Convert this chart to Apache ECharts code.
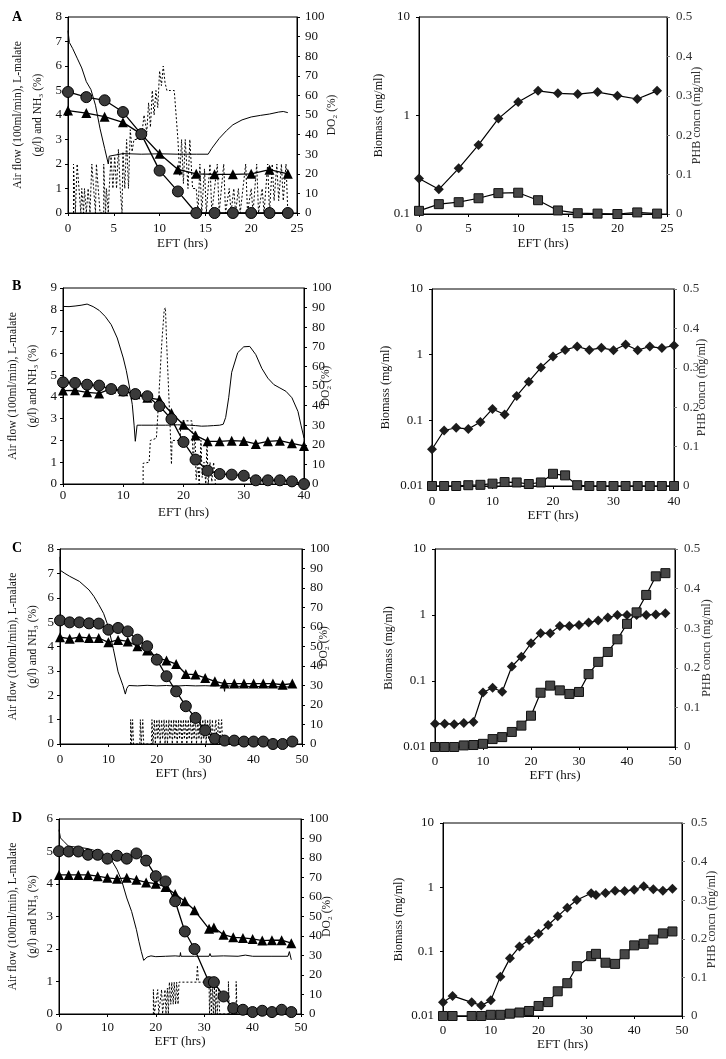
<!DOCTYPE html>
<html><head><meta charset="utf-8">
<script src="https://cdn.jsdelivr.net/npm/echarts/dist/echarts.min.js"></script>
<style>html,body{margin:0;padding:0;background:#fff;}#c{width:726px;height:1059px;}</style>
</head><body><div id="c"></div>
<script>
// ---------------- DATA ----------------
// Panel A (left)
const A_time = [0,2,4,6,8,10,12,14,16,18,20,22,24];
const A_malate = [4.94,4.73,4.6,4.12,3.22,1.73,0.88,0,0,0,0,0,0];
const A_nh3 = [4.18,4.08,3.93,3.7,3.22,2.42,1.78,1.6,1.58,1.58,1.6,1.77,1.6];
const A_do2 = [[0,93],[0.15,87],[0.5,84],[1,79],[1.5,74],[2,67],[2.5,63],[3,55],[3.5,43],[4,33],[4.4,25],[4.5,29],[4.7,30],[6,30.3],[8,30],[10,30.2],[12,30],[14,30],[15.3,30],[15.7,33],[16.5,38],[17.3,42],[18,45],[19,47.5],[20,49],[21,49.8],[22,50.5],[23,51.5],[23.5,51.8],[24,51.2]];
const A_air = [[0.6,0],[0.6,2],[0.8,2],[0.8,0],[1.0,0],[1.0,2],[1.2,1],[1.4,0],[1.5,1],[1.7,0],[1.8,1],[2.0,0],[2.2,1],[2.4,0],[2.6,2],[2.8,1],[3.0,0],[3.1,2],[3.3,1],[3.5,0],[3.9,0],[3.9,2],[4.1,0],[4.2,1],[4.4,0],[4.5,1],[4.7,2.3],[4.9,1],[5.1,2.3],[5.3,1],[5.5,2.6],[5.7,1],[5.9,0],[6.0,2.5],[6.2,1],[6.4,3],[6.6,1],[6.8,3.4],[7.0,2.5],[7.2,3],[7.6,3],[8.0,3],[8.3,4],[8.6,3.3],[8.8,4.5],[9.0,3.5],[9.2,5],[9.4,4],[9.6,5],[9.8,4.3],[10.0,5.8],[10.2,5.2],[10.4,6],[10.6,5.3],[10.8,5],[11.2,5],[11.6,5],[11.8,4],[12.0,3],[12.2,1.5],[12.4,3],[12.6,1.2],[12.8,3],[13.1,1],[13.3,3],[13.6,1],[14.0,1],[14.2,0],[14.4,2],[14.6,0],[14.9,1.8],[15.1,0],[15.5,2],[15.7,0],[16.3,2],[16.5,0],[17.0,2],[17.2,0],[17.6,1],[17.8,0],[18.1,1],[18.3,0],[18.6,1],[18.8,0],[19.4,2],[19.6,0],[20.0,1],[20.2,0],[20.6,2],[20.8,0],[21.2,1],[21.4,0],[21.8,2],[22.0,0],[22.3,2],[22.5,0.5],[22.8,2],[23.0,0.5],[23.3,2],[23.5,0.5],[23.8,2],[24.0,0]];
// Panel A (right)
const A_btime = [0,2,4,6,8,10,12,14,16,18,20,22,24];
const A_biomass = [0.229,0.178,0.291,0.503,0.93,1.37,1.78,1.68,1.65,1.73,1.59,1.47,1.78];
const A_phb = [0.008,0.025,0.030,0.040,0.053,0.054,0.035,0.009,0.002,0.001,0,0.004,0.001];

// Panel B (left)
const B_time = [0,2,4,6,8,10,12,14,16,18,20,22,24,26,28,30,32,34,36,38,40];
const B_malate = [4.67,4.64,4.56,4.52,4.36,4.29,4.13,4.03,3.58,2.98,1.93,1.12,0.61,0.46,0.43,0.38,0.17,0.17,0.17,0.12,0.0];
const B_nh3 = [4.29,4.3,4.21,4.16,4.38,4.26,4.12,3.96,3.87,3.26,2.72,2.23,1.96,1.96,1.99,1.97,1.84,1.96,1.99,1.87,1.75];
const B_do2 = [[0,90.6],[1,90.5],[2,90.8],[3,91.2],[4,91.8],[5,90.5],[6,88.6],[7,85.5],[8,81.3],[9,74.5],[10,64.3],[10.5,58],[11,50],[11.5,40.5],[11.8,30],[12,21.8],[12.3,30],[13,30],[15,30],[17,30],[19,30.2],[21,30],[22,29.8],[23,29.5],[24,29.6],[25,29.8],[26,30],[26.6,30.5],[27,34],[27.5,44],[28,57],[29,67],[30,70],[31,70.2],[32,66],[33,59],[34,54],[35,50.7],[36,49],[37,47.3],[38,44],[39,37],[39.5,30],[40,23.5]];
const B_air = [[13.3,0],[13.3,0.95],[14.3,1.0],[14.5,2.0],[15.5,2.1],[15.7,3.0],[16.0,4.5],[16.4,6.5],[16.8,8.0],[17.0,8.1],[17.2,6.5],[17.5,4.5],[17.8,2.5],[18.0,0.9],[18.1,2.0],[19.4,2.0],[19.6,2.9],[21.4,2.9],[21.6,0.9],[21.9,2.4],[22.1,0.2],[22.4,1.0],[22.6,0],[22.9,2.0],[23.1,0.3],[23.4,1.0],[23.7,0],[23.9,2.0],[24.1,0],[24.4,1.0],[24.7,0.1],[25.0,1.0],[25.3,0]];
// Panel B (right)
const B_btime = [0,2,4,6,8,10,12,14,16,18,20,22,24,26,28,30,32,34,36,38,40];
const B_biomass = [0.0363,0.070,0.077,0.074,0.094,0.149,0.123,0.235,0.388,0.636,0.936,1.18,1.33,1.18,1.27,1.17,1.43,1.17,1.33,1.26,1.38];
const B_phb = [0,0,0,0.002,0.003,0.006,0.010,0.009,0.005,0.009,0.031,0.027,0.002,0,0,0,0,0,0,0,0];

// Panel C (left)
const C_time = [0,2,4,6,8,10,12,14,16,18,20,22,24,26,28,30,32,34,36,38,40,42,44,46,48];
const C_malate = [5.07,4.99,4.99,4.95,4.94,4.69,4.76,4.62,4.28,4.01,3.46,2.78,2.16,1.55,1.07,0.56,0.22,0.14,0.14,0.10,0.10,0.10,0.0,0.0,0.10];
const C_nh3 = [4.38,4.32,4.38,4.35,4.35,4.17,4.27,4.21,4.01,3.84,3.53,3.43,3.28,2.87,2.85,2.71,2.57,2.48,2.48,2.48,2.48,2.48,2.48,2.43,2.48];
const C_do2 = [[0,96],[0.1,89],[1,87.5],[2,86],[4,83.4],[6,79],[7,75.7],[8,71.5],[9,67],[10,60],[11,49],[12,37],[13,30],[13.5,25.6],[13.8,28.5],[14.2,30],[16,29.8],[18,30.1],[20,29.8],[22,30],[24,29.7],[26,30],[28,29.8],[30,29.9],[32,29.7],[33.8,30],[34,27],[34.2,31],[34.5,29.8],[36,29.6],[40,29.5],[44,29.4],[48,29.2]];
const C_air = [[14.6,0],[14.6,1],[14.8,0],[15.0,1],[15.2,0],[16.5,0],[16.6,1],[16.8,0],[17.1,1],[17.3,0],[18.9,0],[19.0,1],[19.2,0],[19.5,1],[19.7,0],[20.0,1],[20.2,0.2],[20.5,1],[20.7,0],[21.0,1],[21.2,0.2],[21.5,1],[21.7,0],[22.0,1],[22.2,0],[22.5,1],[22.7,0.2],[23.0,1],[23.2,0],[23.5,1],[23.7,0.2],[24.0,1],[24.2,0],[24.5,1],[24.7,0.2],[25.0,1],[25.2,0],[25.5,1],[25.7,0.2],[26.0,1],[26.2,0],[26.5,1],[26.7,0.2],[27.0,1],[27.2,0],[27.5,1],[27.7,0.2],[28.0,1],[28.2,0],[28.5,1],[28.7,0.2],[29.0,1],[29.2,0],[29.5,1],[29.7,0.2],[30.0,1],[30.2,0],[30.5,1],[30.7,0.2],[31.0,1],[31.2,0],[31.5,1],[31.7,0],[32.2,1],[32.4,0],[32.8,1],[33.0,0],[33.4,1],[33.6,0]];
// Panel C (right)
const C_btime = [0,2,4,6,8,10,12,14,16,18,20,22,24,26,28,30,32,34,36,38,40,42,44,46,48];
const C_biomass = [0.0226,0.0226,0.0222,0.0231,0.024,0.067,0.079,0.0686,0.166,0.234,0.373,0.528,0.528,0.684,0.684,0.708,0.768,0.824,0.915,1.0,1.0,1.0,1.0,1.02,1.06];
const C_phb = [0,0,0,0.004,0.005,0.008,0.020,0.025,0.038,0.054,0.079,0.137,0.155,0.143,0.134,0.139,0.184,0.215,0.240,0.272,0.311,0.340,0.384,0.431,0.439];

// Panel D (left)
const D_time = [0,2,4,6,8,10,12,14,16,18,20,22,24,26,28,31,32,34,36,38,40,42,44,46,48];
const D_malate = [5.01,5.0,5.0,4.9,4.9,4.78,4.87,4.78,4.94,4.72,4.24,4.08,3.47,2.54,2.0,0.98,0.98,0.54,0.18,0.13,0.06,0.10,0.06,0.13,0.06];
const D_nh3 = [4.28,4.28,4.28,4.28,4.24,4.19,4.16,4.19,4.13,4.05,4.01,3.91,3.69,3.47,3.19,2.62,2.66,2.44,2.36,2.34,2.31,2.26,2.27,2.27,2.18];
const D_do2 = [[0,94.5],[0.3,90.3],[1,88.5],[2,86],[4,85.5],[6,84.8],[8,83.4],[10,80.9],[11,78.3],[12,74],[13,68],[14,59.5],[15,52.6],[16,43.2],[16.5,37.3],[17,32.1],[17.5,27.5],[17.8,26.5],[18.2,29.2],[19,29.8],[20,29.4],[22,29.6],[24,29.8],[25,29.6],[25.1,31.5],[25.2,29.6],[28,29.6],[31,29.6],[31.2,31],[31.4,29.6],[34,29.8],[37,29.6],[38.5,30.2],[40,29.6],[44,29.6],[47.3,29.6],[47.6,32],[48,27.8]];
const D_air = [[19.5,0],[19.5,0.75],[19.7,0],[20.4,0.75],[20.6,0],[21.2,0.75],[21.4,0],[21.9,0.75],[22.1,0],[22.4,0.8],[22.6,0],[22.8,0.98],[23.1,0.3],[23.3,0.98],[23.6,0.3],[23.8,0.98],[24.1,0.3],[24.3,0.98],[24.6,0.3],[24.8,0.98],[26,0.98],[28.4,0.98],[28.6,1.5],[28.8,0.98],[31,0.98],[31.1,0],[31.3,0.9],[31.5,0],[31.7,0.9],[31.9,0],[32.1,0.9],[32.3,0],[32.5,0.9],[32.7,0],[33.0,0.8],[33.2,0],[35.0,0],[35.0,1.0],[35.2,0],[36.6,0],[36.6,1.0],[36.8,0]];
// Panel D (right)
const D_btime = [0,2,6,8,10,12,14,16,18,20,22,24,26,28,31,32,34,36,38,40,42,44,46,48];
const D_biomass = [0.0163,0.0205,0.0163,0.0146,0.0175,0.0409,0.0787,0.120,0.152,0.190,0.260,0.354,0.483,0.635,0.807,0.760,0.817,0.888,0.876,0.92,1.04,0.93,0.888,0.953];
const D_phb = [0,0,0,0,0.003,0.003,0.006,0.009,0.013,0.026,0.036,0.064,0.085,0.129,0.155,0.161,0.138,0.135,0.160,0.183,0.187,0.198,0.214,0.219];

// ---------------- BUILD ----------------
const FONT = '"Liberation Serif","Times New Roman",serif';
const TXT = '#111';
const TICK_FS = 13, VNAME_FS = 11.5, XNAME_FS = 13;
const grids=[], xAxes=[], yAxes=[], series=[];
const zip = (a,b)=>a.map((v,i)=>[v,b[i]]);

function baseX(gi, c){
  return {gridIndex:gi, type:'value', min:0, max:c.xmax, interval:c.xint,
    name:'EFT (hrs)', nameLocation:'middle', nameGap:c.xng,
    nameTextStyle:{fontFamily:FONT,fontSize:XNAME_FS,color:TXT},
    axisLine:{show:true,onZero:false,lineStyle:{color:'#000',width:1}},
    axisTick:{show:true,length:3,lineStyle:{color:'#000'}},
    axisLabel:{margin:c.xlm,fontFamily:FONT,fontSize:TICK_FS,color:TXT},
    splitLine:{show:false}};
}
function yBase(gi, pos){
  return {gridIndex:gi, position:pos, nameLocation:'middle', nameMoveOverlap:false,
    axisLine:{show:true,onZero:false,lineStyle:{color:'#000',width:1}},
    axisTick:{show:true,length:3,lineStyle:{color:'#000'}},
    splitLine:{show:false}, minorTick:{show:false}};
}

function leftPanel(c){
  const gi = grids.length;
  grids.push({left:c.g[0],top:c.g[1],width:c.g[2],height:c.g[3],show:true,borderColor:'#000',borderWidth:1});
  xAxes.push(baseX(gi,c));
  yAxes.push(Object.assign(yBase(gi,'left'),{type:'value',min:0,max:c.ymax,interval:1,
    name:'Air flow (100ml/min), L-malate\n(g/l) and NH\u2083 (%)', nameGap:c.lng,
    nameTextStyle:{fontFamily:FONT,fontSize:VNAME_FS,color:TXT,lineHeight:20,align:'center'},
    axisLabel:{margin:6,fontFamily:FONT,fontSize:TICK_FS,color:TXT}}));
  yAxes.push(Object.assign(yBase(gi,'right'),{type:'value',min:0,max:100,interval:10,
    name:'DO\u2082 (%)', nameGap:c.rng,
    nameTextStyle:{fontFamily:FONT,fontSize:VNAME_FS,color:TXT},
    axisLabel:{margin:8,fontFamily:FONT,fontSize:TICK_FS,color:TXT}}));
  const yl = 2*gi, yr = 2*gi+1;
  series.push({type:'line',xAxisIndex:gi,yAxisIndex:yl,data:c.air,showSymbol:false,symbol:'none',
    lineStyle:{color:'#000',width:1,type:[2,2]},z:1,animation:false});
  series.push({type:'line',xAxisIndex:gi,yAxisIndex:yr,data:c.do2,showSymbol:false,symbol:'none',
    lineStyle:{color:'#000',width:1},z:2,animation:false});
  series.push({type:'line',xAxisIndex:gi,yAxisIndex:yl,data:zip(c.t,c.nh3),symbol:'triangle',symbolSize:10,
    itemStyle:{color:'#000'},lineStyle:{color:'#000',width:1.3},z:4,animation:false});
  series.push({type:'line',xAxisIndex:gi,yAxisIndex:yl,data:zip(c.t,c.mal),symbol:'circle',symbolSize:11,
    itemStyle:{color:'#3a3a3a',borderColor:'#000',borderWidth:1},lineStyle:{color:'#000',width:1.3},z:5,animation:false});
}
function rightPanel(c){
  const gi = grids.length;
  grids.push({left:c.g[0],top:c.g[1],width:c.g[2],height:c.g[3],show:true,borderColor:'#000',borderWidth:1});
  xAxes.push(baseX(gi,c));
  yAxes.push(Object.assign(yBase(gi,'left'),{type:'log',logBase:10,min:c.lmin,max:10,
    name:'Biomass (mg/ml)', nameGap:c.lng,
    nameTextStyle:{fontFamily:FONT,fontSize:VNAME_FS+0.5,color:TXT},
    axisLabel:{margin:9,fontFamily:FONT,fontSize:TICK_FS,color:TXT}}));
  yAxes.push(Object.assign(yBase(gi,'right'),{type:'value',min:0,max:0.5,interval:0.1,
    name:'PHB concn (mg/ml)', nameGap:c.rng,
    nameTextStyle:{fontFamily:FONT,fontSize:VNAME_FS+0.5,color:'#333'},
    axisTick:{show:true,length:3,lineStyle:{color:'#777'}},
    axisLabel:{margin:9,fontFamily:FONT,fontSize:TICK_FS,color:'#333'}}));
  series.push({type:'line',xAxisIndex:gi,yAxisIndex:2*gi,data:zip(c.t,c.bio),symbol:'diamond',symbolSize:10,
    itemStyle:{color:'#1c1c1c'},lineStyle:{color:'#000',width:1.2},z:4,animation:false});
  series.push({type:'line',xAxisIndex:gi,yAxisIndex:2*gi+1,data:zip(c.t,c.phb),symbol:'rect',symbolSize:9,
    itemStyle:{color:'#474747',borderColor:'#111',borderWidth:1},lineStyle:{color:'#000',width:1.2},z:5,animation:false});
}

leftPanel({g:[68,17,229,196],xmax:25,xint:5,ymax:8,xlm:9,xng:24,lng:20,rng:29,t:A_time,mal:A_malate,nh3:A_nh3,do2:A_do2,air:A_air});
rightPanel({g:[419,17,248,197],xmax:25,xint:5,lmin:0.1,xlm:8,xng:23,lng:34,rng:24,t:A_btime,bio:A_biomass,phb:A_phb});
leftPanel({g:[63,288,241,196],xmax:40,xint:10,ymax:9,xlm:5,xng:22,lng:20,rng:16,t:B_time,mal:B_malate,nh3:B_nh3,do2:B_do2,air:B_air});
rightPanel({g:[432,289,242,197],xmax:40,xint:10,lmin:0.01,xlm:9,xng:22,lng:40,rng:22,t:B_btime,bio:B_biomass,phb:B_phb});
leftPanel({g:[60,549,242,195],xmax:50,xint:10,ymax:8,xlm:9,xng:21,lng:17,rng:16,t:C_time,mal:C_malate,nh3:C_nh3,do2:C_do2,air:C_air});
rightPanel({g:[435,549,240,198],xmax:50,xint:10,lmin:0.01,xlm:8,xng:18,lng:40,rng:26,t:C_btime,bio:C_biomass,phb:C_phb});
leftPanel({g:[59,819,242,195],xmax:50,xint:10,ymax:6,xlm:7,xng:21,lng:16,rng:20,t:D_time,mal:D_malate,nh3:D_nh3,do2:D_do2,air:D_air});
rightPanel({g:[443,823,239,193],xmax:50,xint:10,lmin:0.01,xlm:8,xng:22,lng:38,rng:24,t:D_btime,bio:D_biomass,phb:D_phb});

const letters = [['A',12,10],['B',12,279],['C',12,541],['D',12,811]];
const chart = echarts.init(document.getElementById('c'),null,{renderer:'canvas'});
chart.setOption({
  animation:false, backgroundColor:'#fff',
  grid:grids, xAxis:xAxes, yAxis:yAxes, series:series,
  graphic: letters.map(l=>({type:'text',left:l[1],top:l[2],style:{text:l[0],fontFamily:FONT,fontSize:14,fontWeight:'bold',fill:'#000'}}))
});
</script></body></html>
